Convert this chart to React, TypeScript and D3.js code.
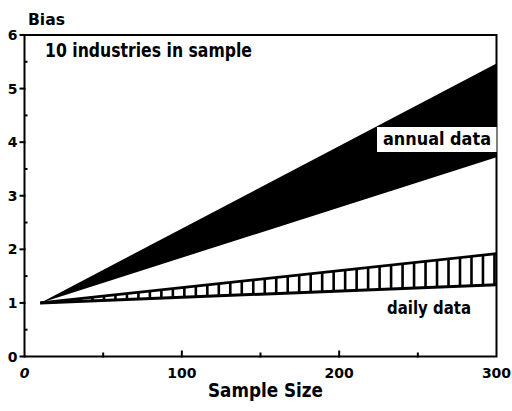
import React, { useEffect, useRef } from "react";
import * as d3 from "d3";

// Bias vs. sample size (band endpoints)
const sampleSize = [10, 300];
const annualLow = [1, 3.72];
const annualHigh = [1, 5.47];
const dailyLow = [1, 1.34];
const dailyHigh = [1, 1.92];

const xTicks = [0, 100, 200, 300];
const yTicks = [0, 1, 2, 3, 4, 5, 6];

const FONT = "'DejaVu Sans', sans-serif";

const App = () => {
  const svgRef = useRef<SVGSVGElement>(null);

  useEffect(() => {
    const width = 512;
    const height = 411;
    const margin = { top: 35, right: 15.5, bottom: 54.5, left: 24.5 };

    const svg = d3.select(svgRef.current);
    svg.selectAll("*").remove();

    const x = d3.scaleLinear().domain([0, 300]).range([margin.left, width - margin.right]);
    const y = d3.scaleLinear().domain([0, 6]).range([height - margin.bottom, margin.top]);

    const rows = sampleSize.map((s, i) => ({
      s,
      aLo: annualLow[i],
      aHi: annualHigh[i],
      dLo: dailyLow[i],
      dHi: dailyHigh[i],
    }));

    // annual band (solid black)
    const annualArea = d3
      .area<any>()
      .x((d) => x(d.s))
      .y0((d) => y(d.aLo))
      .y1((d) => y(d.aHi));
    svg.append("path").datum(rows).attr("d", annualArea).attr("fill", "#000");

    // daily band (vertical hatching)
    const dailyArea = d3
      .area<any>()
      .x((d) => x(d.s))
      .y0((d) => y(d.dLo))
      .y1((d) => y(d.dHi));
    svg
      .append("clipPath")
      .attr("id", "dailyClip")
      .append("path")
      .datum(rows)
      .attr("d", dailyArea);
    svg
      .append("g")
      .attr("clip-path", "url(#dailyClip)")
      .selectAll("line")
      .data(d3.range(14, 300, 7.3))
      .join("line")
      .attr("x1", (d) => x(d))
      .attr("x2", (d) => x(d))
      .attr("y1", y(0))
      .attr("y2", y(6))
      .attr("stroke", "#000")
      .attr("stroke-width", 2.6);
    svg
      .append("path")
      .datum(rows)
      .attr("d", d3.line<any>().x((d) => x(d.s)).y((d) => y(d.dHi)))
      .attr("fill", "none")
      .attr("stroke", "#000")
      .attr("stroke-width", 2.6);
    svg
      .append("path")
      .datum(rows)
      .attr("d", d3.line<any>().x((d) => x(d.s)).y((d) => y(d.dLo)))
      .attr("fill", "none")
      .attr("stroke", "#000")
      .attr("stroke-width", 3);

    // frame
    svg
      .append("rect")
      .attr("x", x(0))
      .attr("y", y(6))
      .attr("width", x(300) - x(0))
      .attr("height", y(0) - y(6))
      .attr("fill", "none")
      .attr("stroke", "#000")
      .attr("stroke-width", 2);

    // y ticks: majors outward, minors on the axis
    svg
      .append("g")
      .selectAll("line")
      .data(yTicks)
      .join("line")
      .attr("x1", x(0) - 5)
      .attr("x2", x(0) + 1)
      .attr("y1", (d) => y(d))
      .attr("y2", (d) => y(d))
      .attr("stroke", "#000")
      .attr("stroke-width", 2);
    svg
      .append("g")
      .selectAll("line")
      .data(d3.range(0.5, 6, 1))
      .join("line")
      .attr("x1", x(0))
      .attr("x2", x(0) + 3)
      .attr("y1", (d) => y(d))
      .attr("y2", (d) => y(d))
      .attr("stroke", "#000")
      .attr("stroke-width", 2);
    svg
      .append("g")
      .selectAll("text")
      .data(yTicks)
      .join("text")
      .attr("x", x(0) - 7)
      .attr("y", (d) => y(d) + 5)
      .attr("text-anchor", "end")
      .attr("font-family", FONT)
      .attr("font-weight", "bold")
      .attr("font-size", 14)
      .text((d) => d);

    // x ticks: inward marks
    svg
      .append("g")
      .selectAll("line")
      .data(d3.range(50, 300, 50))
      .join("line")
      .attr("x1", (d) => x(d))
      .attr("x2", (d) => x(d))
      .attr("y1", y(0) + 1)
      .attr("y2", (d) => y(0) - (d % 100 === 0 ? 6 : 4))
      .attr("stroke", "#000")
      .attr("stroke-width", 2);
    svg
      .append("g")
      .selectAll("text")
      .data(xTicks)
      .join("text")
      .attr("x", (d) => x(d))
      .attr("y", y(0) + 21)
      .attr("text-anchor", "middle")
      .attr("font-family", FONT)
      .attr("font-weight", "bold")
      .attr("font-size", 14)
      .attr("font-style", (d) => (d === 0 ? "italic" : "normal"))
      .text((d) => d);

    const label = (txt: string, tx: number, ty: number, size: number, len: number) =>
      svg
        .append("text")
        .attr("x", tx)
        .attr("y", ty)
        .attr("font-family", FONT)
        .attr("font-weight", "bold")
        .attr("font-size", size)
        .attr("textLength", len)
        .attr("lengthAdjust", "spacingAndGlyphs")
        .text(txt);

    label("Bias", 28, 25, 15, 37);
    label("10 industries in sample", 45, 57, 19, 207);

    // annual label on white box
    svg
      .append("rect")
      .attr("x", 377)
      .attr("y", 127)
      .attr("width", x(300) - 377)
      .attr("height", 25)
      .attr("fill", "#fff");
    label("annual data", 383, 145, 17, 108);
    label("daily data", 387, 314, 17, 84);
    label("Sample Size", 208, 397, 19, 115);
  }, []);

  return <svg ref={svgRef} width={512} height={411} style={{ position: "absolute", left: 0, top: 0 }} />;
};

export default App;
